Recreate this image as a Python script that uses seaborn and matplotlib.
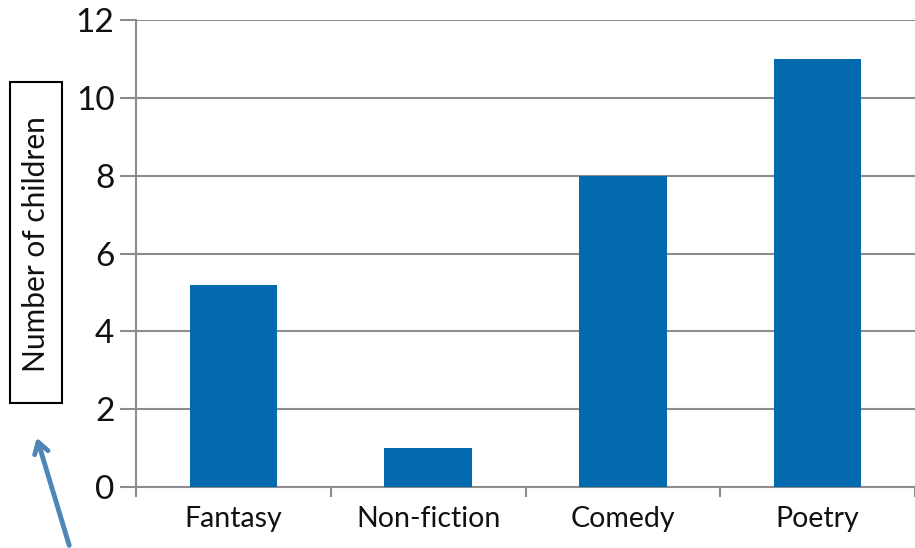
import numpy as np
import matplotlib
matplotlib.use("Agg")
import matplotlib.pyplot as plt
import seaborn as sns

# chart data
categories = ["Fantasy", "Non-fiction", "Comedy", "Poetry"]
children = [5.2, 1, 8, 11]
y_ticks = [0, 2, 4, 6, 8, 10, 12]

W, H = 915, 548
sns.set_theme(style="white")
plt.rcParams['font.family'] = ['Lato', 'DejaVu Sans']

fig = plt.figure(figsize=(W / 100, H / 100), dpi=100)
ax = fig.add_axes([136 / W, 61 / H, 779 / W, 467 / H])

sns.barplot(x=categories, y=children, color="#036aaf", width=0.45,
            saturation=1, linewidth=0, ax=ax, zorder=3)

grid_col = "#8c8c8c"
ax.set_ylim(0, 12)
ax.set_xlim(-0.5, 3.5 - 5 / 196)
ax.set_yticks(y_ticks)
ax.set_yticklabels([str(t) for t in y_ticks], fontsize=24, color="#111111")
ax.yaxis.grid(True, color=grid_col, lw=1.5, zorder=0)
ax.tick_params(axis="y", length=11.5, width=1.5, color=grid_col, pad=4, left=True)
ax.tick_params(axis="x", length=0, pad=14, labelsize=20.5, labelcolor="#111111")
ax.set_xticks(np.arange(-0.5, 4, 1), minor=True)
ax.tick_params(axis="x", which="minor", length=7, width=1.5, color=grid_col, bottom=True)

for s in ["top", "right"]:
    ax.spines[s].set_visible(False)
for s in ["left", "bottom"]:
    ax.spines[s].set_color(grid_col)
    ax.spines[s].set_linewidth(1.5)
ax.set_xlabel("")
ax.set_ylabel("")

# boxed y label
fig.patches.append(matplotlib.patches.Rectangle(
    (10 / W, 1 - 403 / H), 52 / W, 321 / H, transform=fig.transFigure,
    fill=False, ec="black", lw=1.5))
fig.text(36 / W, 1 - 244 / H, "Number of children", rotation=90,
         ha="center", va="center", fontsize=21.5, color="#111111")

# arrow pointing at the label
fig.patches.append(matplotlib.patches.FancyArrowPatch(
    (70 / W, 0 / H), (36 / W, 1 - 435 / H), transform=fig.transFigure,
    arrowstyle="->,head_length=8,head_width=5", color="#4f86b8", lw=3.5))

fig.savefig("out.png", dpi=100)
